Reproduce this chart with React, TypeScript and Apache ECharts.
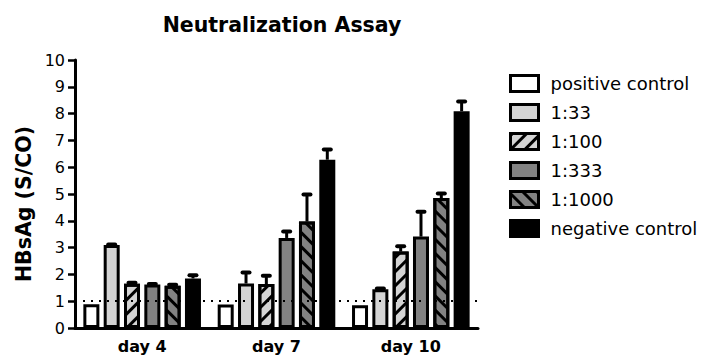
import React, { useEffect, useRef } from "react";
import * as echarts from "echarts";

const categories = ["day 4", "day 7", "day 10"];
const seriesNames = ["positive control", "1:33", "1:100", "1:333", "1:1000", "negative control"];
const positiveControl = [0.89, 0.88, 0.85];
const dil33 = [3.1, 1.66, 1.45];
const dil100 = [1.65, 1.64, 2.85];
const dil333 = [1.62, 3.36, 3.41];
const dil1000 = [1.58, 3.97, 4.85];
const negativeControl = [1.85, 6.28, 8.09];
const positiveControlErr = [0, 0, 0];
const dil33Err = [0.02, 0.41, 0.02];
const dil100Err = [0.04, 0.31, 0.2];
const dil333Err = [0.02, 0.24, 0.93];
const dil1000Err = [0.03, 1.01, 0.17];
const negativeControlErr = [0.12, 0.38, 0.36];
const cutoff = 1;
const yTicks = [0, 1, 2, 3, 4, 5, 6, 7, 8, 9, 10];

const FONT = "DejaVu Sans";
const BAR_W = 16;
const BAR_GAP = 0.27;

export default function App() {
  const ref = useRef<HTMLDivElement>(null);
  useEffect(() => {
    document.body.style.margin = "0";
    const chart = echarts.init(ref.current!, null, { renderer: "svg" });
    const values = [positiveControl, dil33, dil100, dil333, dil1000, negativeControl];
    const errs = [positiveControlErr, dil33Err, dil100Err, dil333Err, dil1000Err, negativeControlErr];
    const fills = ["#ffffff", "#d4d4d4", "#d4d4d4", "#828282", "#828282", "#000000"];
    const decals: any[] = [
      null,
      null,
      { symbol: "rect", symbolSize: 1, color: "#000", dashArrayX: [1, 0], dashArrayY: [2.5, 6.5], rotation: -Math.PI / 4 },
      null,
      { symbol: "rect", symbolSize: 1, color: "#000", dashArrayX: [1, 0], dashArrayY: [2.5, 6.5], rotation: Math.PI / 4 },
      null,
    ];
    const barSeries = seriesNames.map((name, i) => {
      const itemStyle: any = { color: fills[i], borderColor: "#000", borderWidth: 3 };
      if (decals[i]) itemStyle.decal = decals[i];
      return {
        type: "bar",
        name,
        data: values[i],
        barWidth: BAR_W,
        barGap: `${BAR_GAP * 100}%`,
        itemStyle,
        emphasis: { disabled: true },
        z: 2,
      };
    });
    const errData: number[][] = [];
    values.forEach((arr, si) =>
      arr.forEach((v, ci) => {
        errData.push([ci, v, errs[si][ci], si]);
      })
    );
    const pitch = BAR_W * (1 + BAR_GAP);
    const errSeries = {
      type: "custom",
      name: "err",
      data: errData,
      z: 5,
      silent: true,
      renderItem: (params: any, api: any) => {
        const ci = api.value(0);
        const v = api.value(1);
        const e = api.value(2);
        const si = api.value(3);
        if (!(e > 0)) return { type: "group", children: [] };
        const base = api.coord([ci, v]);
        const top = api.coord([ci, v + e]);
        const x = base[0] + (si - 2.5) * pitch;
        return {
          type: "group",
          children: [
            { type: "line", shape: { x1: x, y1: base[1], x2: x, y2: top[1] }, style: { stroke: "#000", lineWidth: 3 } },
            { type: "line", shape: { x1: x - 3.5, y1: top[1], x2: x + 3.5, y2: top[1] }, style: { stroke: "#000", lineWidth: 4, lineCap: "round" } },
          ],
        };
      },
    };
    const refSeries = {
      type: "line",
      name: "cutoff",
      data: [],
      z: 10,
      silent: true,
      markLine: {
        silent: true,
        symbol: "none",
        label: { show: false },
        lineStyle: { color: "#000", width: 2, type: [2, 6] },
        data: [{ yAxis: cutoff }],
      },
    };
    chart.setOption({
      animation: false,
      title: {
        text: "Neutralization Assay",
        left: 277,
        top: 9,
        textAlign: "center",
        textStyle: { fontFamily: FONT, fontWeight: "bold", fontSize: 20.5, color: "#000" },
      },
      legend: {
        data: seriesNames,
        orient: "vertical",
        left: 504,
        top: 69,
        itemWidth: 28,
        itemHeight: 16,
        itemGap: 10,
        icon: "rect",
        selectedMode: false,
        itemStyle: { borderWidth: 3, borderColor: "#000" },
        textStyle: { fontFamily: FONT, fontSize: 18, color: "#000", lineHeight: 19, padding: [0, 0, 0, 7] },
      },
      grid: { left: 75, right: 226, top: 60, bottom: 32 },
      xAxis: {
        type: "category",
        data: categories,
        axisLine: { lineStyle: { color: "#000", width: 3 } },
        axisTick: { alignWithLabel: true, length: 6, lineStyle: { color: "#000", width: 2.5 } },
        axisLabel: { fontFamily: FONT, fontWeight: "bold", fontSize: 16, color: "#000", margin: 10 },
      },
      yAxis: {
        type: "value",
        min: yTicks[0],
        max: yTicks[yTicks.length - 1],
        interval: 1,
        axisLine: { show: true, lineStyle: { color: "#000", width: 3 } },
        axisTick: { show: true, length: 7, lineStyle: { color: "#000", width: 2.5 } },
        axisLabel: { fontFamily: FONT, fontSize: 16, color: "#000", margin: 10 },
        splitLine: { show: false },
      },
      graphic: [
        {
          type: "text",
          x: 24,
          y: 204,
          rotation: Math.PI / 2,
          style: {
            text: "HBsAg (S/CO)",
            fontFamily: FONT,
            fontWeight: "bold",
            fontSize: 20.5,
            fill: "#000",
            align: "center",
            verticalAlign: "middle",
          },
        },
      ],
      series: [...barSeries, errSeries, refSeries],
    });
    return () => chart.dispose();
  }, []);
  return <div ref={ref} style={{ width: 704, height: 360 }} />;
}
